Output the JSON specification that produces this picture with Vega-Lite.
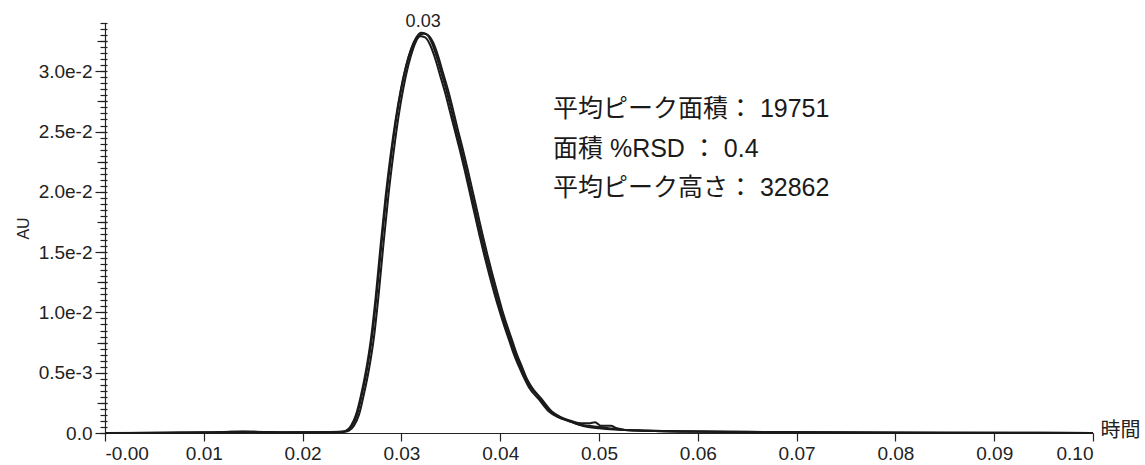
{
  "$schema": "https://vega.github.io/schema/vega-lite/v6.json",
  "width": 988,
  "height": 410,
  "autosize": {"type": "none"},
  "padding": {"left": 105, "top": 23, "right": 52, "bottom": 32},
  "background": "white",
  "config": {
    "view": {"stroke": null},
    "font": "Liberation Sans",
    "axis": {"grid": false, "labelFont": "Liberation Sans", "titleFont": "Liberation Sans", "domainColor": "#222", "tickColor": "#222", "labelColor": "#222", "titleColor": "#222", "domainWidth": 1.2, "tickWidth": 1.2}
  },
  "layer": [
    {
      "data": {"values": [
        {"run":"A","t":0,"au":0},{"run":"A","t":0.005,"au":0.00002},{"run":"A","t":0.01,"au":0.00004},{"run":"A","t":0.013,"au":0.0001},{"run":"A","t":0.015,"au":0.0001},{"run":"A","t":0.018,"au":0.00005},{"run":"A","t":0.021,"au":0.00006},{"run":"A","t":0.024,"au":0.0001},{"run":"A","t":0.0245,"au":0.0002},{"run":"A","t":0.025,"au":0.0006},{"run":"A","t":0.0255,"au":0.0015},{"run":"A","t":0.026,"au":0.0032},{"run":"A","t":0.0265,"au":0.0052},{"run":"A","t":0.027,"au":0.0078},{"run":"A","t":0.0275,"au":0.0115},{"run":"A","t":0.028,"au":0.0158},{"run":"A","t":0.0285,"au":0.0198},{"run":"A","t":0.029,"au":0.0232},{"run":"A","t":0.0295,"au":0.0262},{"run":"A","t":0.03,"au":0.0286},{"run":"A","t":0.0305,"au":0.0305},{"run":"A","t":0.031,"au":0.0319},{"run":"A","t":0.0315,"au":0.0328},{"run":"A","t":0.032,"au":0.0332},{"run":"A","t":0.0325,"au":0.0331},{"run":"A","t":0.033,"au":0.0325},{"run":"A","t":0.0335,"au":0.0314},{"run":"A","t":0.034,"au":0.03},{"run":"A","t":0.0345,"au":0.0286},{"run":"A","t":0.035,"au":0.027},{"run":"A","t":0.0355,"au":0.0253},{"run":"A","t":0.036,"au":0.0237},{"run":"A","t":0.0365,"au":0.022},{"run":"A","t":0.037,"au":0.0202},{"run":"A","t":0.0375,"au":0.0184},{"run":"A","t":0.038,"au":0.0166},{"run":"A","t":0.0385,"au":0.0149},{"run":"A","t":0.039,"au":0.0133},{"run":"A","t":0.0395,"au":0.0118},{"run":"A","t":0.04,"au":0.0103},{"run":"A","t":0.0405,"au":0.009},{"run":"A","t":0.041,"au":0.0078},{"run":"A","t":0.0415,"au":0.0066},{"run":"A","t":0.042,"au":0.0056},{"run":"A","t":0.0425,"au":0.0046},{"run":"A","t":0.043,"au":0.0039},{"run":"A","t":0.044,"au":0.0029},{"run":"A","t":0.045,"au":0.0018},{"run":"A","t":0.046,"au":0.0013},{"run":"A","t":0.047,"au":0.001},{"run":"A","t":0.048,"au":0.0007},{"run":"A","t":0.049,"au":0.0006},{"run":"A","t":0.05,"au":0.0005},{"run":"A","t":0.051,"au":0.0004},{"run":"A","t":0.052,"au":0.0003},{"run":"A","t":0.054,"au":0.0002},{"run":"A","t":0.056,"au":0.00015},{"run":"A","t":0.06,"au":0.0001},{"run":"A","t":0.07,"au":0.00005},{"run":"A","t":0.08,"au":0.00003},{"run":"A","t":0.09,"au":0.00002},{"run":"A","t":0.1,"au":0},

        {"run":"B","t":0,"au":0},{"run":"B","t":0.006,"au":0.00003},{"run":"B","t":0.012,"au":0.00008},{"run":"B","t":0.014,"au":0.00012},{"run":"B","t":0.017,"au":0.00006},{"run":"B","t":0.022,"au":0.00007},{"run":"B","t":0.0242,"au":0.0001},{"run":"B","t":0.0247,"au":0.0002},{"run":"B","t":0.0252,"au":0.0006},{"run":"B","t":0.0257,"au":0.0015},{"run":"B","t":0.0262,"au":0.0032},{"run":"B","t":0.0267,"au":0.0052},{"run":"B","t":0.0272,"au":0.0078},{"run":"B","t":0.0277,"au":0.0115},{"run":"B","t":0.0282,"au":0.0158},{"run":"B","t":0.0287,"au":0.0198},{"run":"B","t":0.0292,"au":0.0232},{"run":"B","t":0.0297,"au":0.0262},{"run":"B","t":0.0302,"au":0.0286},{"run":"B","t":0.0307,"au":0.0305},{"run":"B","t":0.0312,"au":0.0319},{"run":"B","t":0.0317,"au":0.0328},{"run":"B","t":0.0322,"au":0.0331},{"run":"B","t":0.0327,"au":0.033},{"run":"B","t":0.0332,"au":0.0324},{"run":"B","t":0.0337,"au":0.0313},{"run":"B","t":0.0342,"au":0.0299},{"run":"B","t":0.0347,"au":0.0285},{"run":"B","t":0.0352,"au":0.0269},{"run":"B","t":0.0357,"au":0.0252},{"run":"B","t":0.0362,"au":0.0236},{"run":"B","t":0.0367,"au":0.0219},{"run":"B","t":0.0372,"au":0.0201},{"run":"B","t":0.0377,"au":0.0183},{"run":"B","t":0.0382,"au":0.0165},{"run":"B","t":0.0387,"au":0.0148},{"run":"B","t":0.0392,"au":0.0132},{"run":"B","t":0.0397,"au":0.0117},{"run":"B","t":0.0402,"au":0.0102},{"run":"B","t":0.0407,"au":0.0089},{"run":"B","t":0.0412,"au":0.0077},{"run":"B","t":0.0417,"au":0.0065},{"run":"B","t":0.0422,"au":0.0055},{"run":"B","t":0.0427,"au":0.0045},{"run":"B","t":0.0432,"au":0.0038},{"run":"B","t":0.0442,"au":0.0028},{"run":"B","t":0.0452,"au":0.0018},{"run":"B","t":0.0462,"au":0.0013},{"run":"B","t":0.0472,"au":0.001},{"run":"B","t":0.0482,"au":0.0008},{"run":"B","t":0.049,"au":0.0008},{"run":"B","t":0.0496,"au":0.0009},{"run":"B","t":0.0502,"au":0.0006},{"run":"B","t":0.0512,"au":0.0006},{"run":"B","t":0.0518,"au":0.0004},{"run":"B","t":0.0535,"au":0.0002},{"run":"B","t":0.058,"au":0.00015},{"run":"B","t":0.065,"au":0.0001},{"run":"B","t":0.075,"au":0.00004},{"run":"B","t":0.1,"au":0},

        {"run":"C","t":0,"au":0},{"run":"C","t":0.007,"au":0.00002},{"run":"C","t":0.011,"au":0.00005},{"run":"C","t":0.0145,"au":0.00009},{"run":"C","t":0.019,"au":0.00004},{"run":"C","t":0.0239,"au":0.0001},{"run":"C","t":0.0244,"au":0.0002},{"run":"C","t":0.0249,"au":0.0006},{"run":"C","t":0.0254,"au":0.0015},{"run":"C","t":0.0259,"au":0.0031},{"run":"C","t":0.0264,"au":0.0051},{"run":"C","t":0.0269,"au":0.0077},{"run":"C","t":0.0274,"au":0.0113},{"run":"C","t":0.0279,"au":0.0156},{"run":"C","t":0.0284,"au":0.0196},{"run":"C","t":0.0289,"au":0.023},{"run":"C","t":0.0294,"au":0.0259},{"run":"C","t":0.0299,"au":0.0283},{"run":"C","t":0.0304,"au":0.0302},{"run":"C","t":0.0309,"au":0.0316},{"run":"C","t":0.0314,"au":0.0325},{"run":"C","t":0.0319,"au":0.0329},{"run":"C","t":0.0324,"au":0.0328},{"run":"C","t":0.0329,"au":0.0322},{"run":"C","t":0.0334,"au":0.0311},{"run":"C","t":0.0339,"au":0.0297},{"run":"C","t":0.0344,"au":0.0283},{"run":"C","t":0.0349,"au":0.0267},{"run":"C","t":0.0354,"au":0.0251},{"run":"C","t":0.0359,"au":0.0235},{"run":"C","t":0.0364,"au":0.0218},{"run":"C","t":0.0369,"au":0.02},{"run":"C","t":0.0374,"au":0.0182},{"run":"C","t":0.0379,"au":0.0164},{"run":"C","t":0.0384,"au":0.0147},{"run":"C","t":0.0389,"au":0.0131},{"run":"C","t":0.0394,"au":0.0116},{"run":"C","t":0.0399,"au":0.0102},{"run":"C","t":0.0404,"au":0.0089},{"run":"C","t":0.0409,"au":0.0077},{"run":"C","t":0.0414,"au":0.0065},{"run":"C","t":0.0419,"au":0.0055},{"run":"C","t":0.0424,"au":0.0046},{"run":"C","t":0.0429,"au":0.0038},{"run":"C","t":0.0439,"au":0.0028},{"run":"C","t":0.0449,"au":0.0018},{"run":"C","t":0.0459,"au":0.0013},{"run":"C","t":0.0469,"au":0.001},{"run":"C","t":0.0479,"au":0.0007},{"run":"C","t":0.0489,"au":0.0005},{"run":"C","t":0.05,"au":0.0004},{"run":"C","t":0.0515,"au":0.0003},{"run":"C","t":0.055,"au":0.0002},{"run":"C","t":0.062,"au":0.0001},{"run":"C","t":0.072,"au":0.00006},{"run":"C","t":0.085,"au":0.00003},{"run":"C","t":0.1,"au":0}
      ]},
      "mark": {"type": "line", "color": "#1a1a1a", "strokeWidth": 2, "interpolate": "monotone"},
      "encoding": {
        "x": {"field": "t", "type": "quantitative", "scale": {"domain": [0, 0.1], "nice": false},
          "axis": {"values": [0,0.01,0.02,0.03,0.04,0.05,0.06,0.07,0.08,0.09,0.1], "labelExpr": "datum.value == 0 ? '-0.00' : format(datum.value, '.2f')", "tickSize": 8, "labelFontSize": 19, "labelPadding": 3,
            "title": "時間", "titleFont": "Noto Sans CJK JP", "titleFontSize": 20, "titleFontWeight": "normal", "titleAngle": 0, "titleAlign": "left", "titleBaseline": "middle", "titleX": 995, "titleY": -3}},
        "y": {"field": "au", "type": "quantitative", "scale": {"domain": [0, 0.034], "nice": false},
          "axis": {"values": [0,0.005,0.01,0.015,0.02,0.025,0.03], "labelExpr": "datum.value == 0 ? '0.0' : datum.value == 0.005 ? '0.5e-3' : format(datum.value * 100, '.1f') + 'e-2'", "tickSize": 10, "labelFontSize": 19, "labelPadding": 3,
            "title": "AU", "titleFontSize": 16, "titleFontWeight": "normal", "titlePadding": 7}},
        "detail": {"field": "run"}
      }
    },
    {
      "data": {"values": [
        {"t": 0.04534, "au": 0.02683, "label": "平均ピーク面積： 19751"},
        {"t": 0.04534, "au": 0.02359, "label": "面積 %RSD ： 0.4"},
        {"t": 0.04534, "au": 0.02035, "label": "平均ピーク高さ： 32862"}
      ]},
      "mark": {"type": "text", "align": "left", "baseline": "middle", "fontSize": 25, "font": "Liberation Sans, Noto Sans CJK JP", "color": "#1a1a1a"},
      "encoding": {
        "x": {"field": "t", "type": "quantitative"},
        "y": {"field": "au", "type": "quantitative", "scale": {"domain": [0, 0.034], "nice": false},
          "axis": {"orient": "left", "title": null, "labels": false, "domain": false, "tickSize": 7, "offset": -2,
            "values": [0,0.0005,0.001,0.0015,0.002,0.0025,0.003,0.0035,0.004,0.0045,0.005,0.0055,0.006,0.0065,0.007,0.0075,0.008,0.0085,0.009,0.0095,0.01,0.0105,0.011,0.0115,0.012,0.0125,0.013,0.0135,0.014,0.0145,0.015,0.0155,0.016,0.0165,0.017,0.0175,0.018,0.0185,0.019,0.0195,0.02,0.0205,0.021,0.0215,0.022,0.0225,0.023,0.0235,0.024,0.0245,0.025,0.0255,0.026,0.0265,0.027,0.0275,0.028,0.0285,0.029,0.0295,0.03,0.0305,0.031,0.0315,0.032,0.0325,0.033,0.0335,0.034]}},
        "text": {"field": "label"}
      }
    },
    {
      "data": {"values": [{"t": 0.0322, "au": 0.0332, "label": "0.03"}]},
      "mark": {"type": "text", "align": "center", "baseline": "middle", "fontSize": 18, "dy": -11, "font": "Liberation Sans", "color": "#222"},
      "encoding": {
        "x": {"field": "t", "type": "quantitative"},
        "y": {"field": "au", "type": "quantitative", "scale": {"domain": [0, 0.034], "nice": false},
          "axis": {"orient": "left", "title": null, "labels": false, "domain": false, "tickSize": 10, "offset": -2,
            "values": [0.0025,0.0075,0.0125,0.0175,0.0225,0.0275,0.0325]}},
        "text": {"field": "label"}
      }
    }
  ],
  "resolve": {"scale": {"y": "independent"}}
}
